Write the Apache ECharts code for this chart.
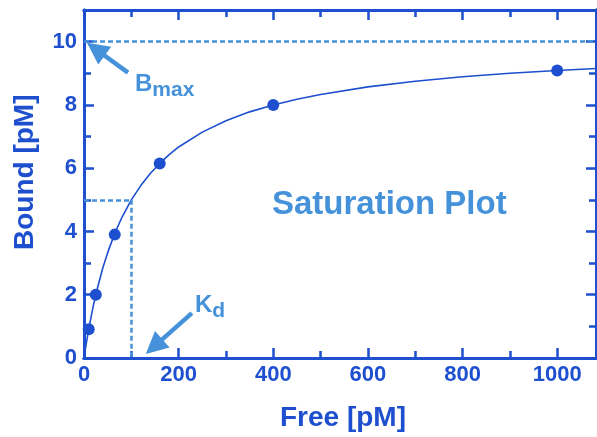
<!DOCTYPE html>
<html>
<head>
<meta charset="utf-8">
<script src="https://cdn.jsdelivr.net/npm/echarts@6/dist/echarts.min.js"></script>
<style>
  html, body { margin: 0; padding: 0; background: #fff; }
  #chart { width: 597px; height: 437px; }
</style>
</head>
<body>
<div id="chart"></div>
<script>
// measured points
var freeConc = [10, 25, 65, 160, 400, 1000];
var boundConc = [0.91, 2.0, 3.9, 6.15, 8.0, 9.09];
// fitted curve
var curveFree = [0, 5, 10, 15, 20, 25, 30, 40, 50, 65, 80, 100, 120, 140, 160, 180, 200, 250, 300, 350, 400, 450, 500, 600, 700, 800, 900, 1000, 1082];
var curveBound = [0, 0.48, 0.91, 1.3, 1.67, 2.0, 2.3, 2.86, 3.33, 3.94, 4.44, 5.0, 5.45, 5.83, 6.15, 6.43, 6.67, 7.14, 7.5, 7.78, 8.0, 8.18, 8.33, 8.57, 8.75, 8.89, 9.0, 9.09, 9.15];
var bmax = 10;
var kd = 100;
var halfBound = 5;

var dark = "#1d4fcf";
var light = "#4592db";
var font = "Liberation Sans, Arial, sans-serif";

var myChart = echarts.init(document.getElementById("chart"));

// one axis per side and tick size: long ticks every 200 / 2, short ones every 100 / 1
function xAx(pos, interval, len, labels) {
  return {
    type: "value", position: pos, min: 0, max: 1082, interval: interval,
    axisLine: { onZero: false, lineStyle: { color: dark, width: 3 } },
    axisTick: { inside: true, length: len, lineStyle: { color: dark, width: 2.5 } },
    axisLabel: labels ? {
      color: dark, fontFamily: font, fontWeight: "bold", fontSize: 22, margin: 6,
      showMaxLabel: false,
      formatter: function (v) { return String(v); }
    } : { show: false },
    splitLine: { show: false }
  };
}
function yAx(pos, interval, len, labels) {
  return {
    type: "value", position: pos, min: 0, max: 11, interval: interval,
    axisLine: { onZero: false, lineStyle: { color: dark, width: 3 } },
    axisTick: { inside: true, length: len, lineStyle: { color: dark, width: 2.5 } },
    axisLabel: labels ? {
      color: dark, fontFamily: font, fontWeight: "bold", fontSize: 22, margin: 7,
      showMaxLabel: false
    } : { show: false },
    splitLine: { show: false }
  };
}

myChart.setOption({
  animation: false,
  grid: { left: 84, right: 1, top: 10, bottom: 79 },
  xAxis: [
    xAx("bottom", 200, 10, true),
    xAx("bottom", 100, 7, false),
    xAx("top", 200, 10, false),
    xAx("top", 100, 7, false)
  ],
  yAxis: [
    yAx("left", 2, 10, true),
    yAx("left", 1, 7, false),
    yAx("right", 2, 10, false),
    yAx("right", 1, 7, false)
  ],
  series: [
    {
      name: "fit",
      type: "line",
      data: curveFree.map(function (x, i) { return [x, curveBound[i]]; }),
      smooth: false,
      showSymbol: false,
      lineStyle: { color: dark, width: 1.6 },
      z: 3,
      markLine: {
        silent: true,
        symbol: ["none", "none"],
        label: { show: false },
        lineStyle: { color: light, width: 2.5, type: [5, 3] },
        data: [
          [{ coord: [0, bmax] }, { coord: [1082, bmax] }],
          [{ coord: [0, halfBound] }, { coord: [kd, halfBound] }],
          [{ coord: [kd, halfBound] }, { coord: [kd, 0] }]
        ]
      }
    },
    {
      name: "arrows",
      type: "line",
      data: [],
      markLine: {
        silent: true,
        symbol: ["none", "path://M0,0L12,20L-12,20Z"],
        symbolSize: 22,
        label: { show: false },
        lineStyle: { color: light, width: 4.5, type: "solid", opacity: 1 },
        data: [
          [{ coord: [93, 9.02] }, { coord: [25, 9.76] }],
          [{ coord: [228, 1.42] }, { coord: [148, 0.36] }]
        ]
      }
    },
    {
      name: "data",
      type: "scatter",
      data: freeConc.map(function (x, i) { return [x, boundConc[i]]; }),
      symbol: "circle",
      symbolSize: 12,
      itemStyle: { color: dark, opacity: 1 },
      z: 4
    }
  ],
  graphic: [
    {
      type: "text",
      left: 272, top: 188,
      style: { text: "Saturation Plot", fill: light, font: "bold 33px " + font }
    },
    {
      type: "text",
      left: 135, top: 72,
      style: {
        text: "{b|B}{s|max}",
        rich: {
          b: { fill: light, font: "bold 24px " + font },
          s: { fill: light, font: "bold 21px " + font, padding: [12, 0, 0, 0] }
        }
      }
    },
    {
      type: "text",
      left: 195, top: 293,
      style: {
        text: "{b|K}{s|d}",
        rich: {
          b: { fill: light, font: "bold 24px " + font },
          s: { fill: light, font: "bold 21px " + font, padding: [12, 0, 0, 0] }
        }
      }
    },
    {
      type: "text",
      left: 280, top: 404,
      style: { text: "Free [pM]", fill: dark, font: "bold 28px " + font }
    },
    {
      type: "text",
      x: 11, y: 250,
      rotation: Math.PI / 2,
      style: { text: "Bound [pM]", fill: dark, font: "bold 28px " + font }
    }
  ]
});
</script>
</body>
</html>
